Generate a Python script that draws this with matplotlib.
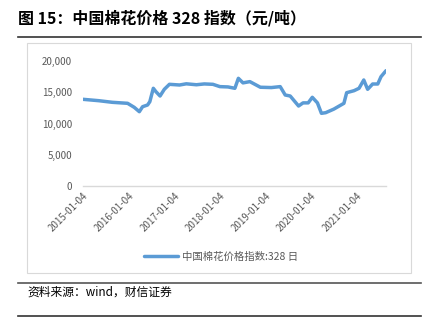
import pandas as pd
import matplotlib
matplotlib.use("Agg")
import matplotlib.pyplot as plt
import matplotlib.dates as mdates
from matplotlib.lines import Line2D
from matplotlib.patches import Rectangle

plt.rcParams['font.family'] = ['Noto Sans CJK SC', 'DejaVu Sans']

# China Cotton Index 328 (yuan/ton)
dates = ["2015-01-04", "2015-05-10", "2015-08-27", "2015-12-27", "2016-02-18",
         "2016-03-30", "2016-04-25", "2016-06-04", "2016-06-22", "2016-07-20",
         "2016-08-10", "2016-09-12", "2016-10-16", "2016-11-26", "2017-02-15",
         "2017-04-10", "2017-06-30", "2017-09-01", "2017-11-09", "2018-01-04",
         "2018-03-10", "2018-05-04", "2018-06-01", "2018-07-08", "2018-09-01",
         "2018-11-24", "2019-02-20", "2019-05-02", "2019-06-11", "2019-07-21",
         "2019-09-26", "2019-11-01", "2019-12-12", "2020-01-14", "2020-02-24",
         "2020-03-27", "2020-04-30", "2020-07-04", "2020-09-23", "2020-10-15",
         "2020-12-13", "2021-01-22", "2021-03-01", "2021-04-01", "2021-05-11",
         "2021-06-21", "2021-07-17", "2021-08-26"]
values = [13870, 13650, 13390, 13230, 12590,
          11890, 12690, 12960, 13490, 15630,
          15090, 14400, 15470, 16270, 16160,
          16350, 16200, 16330, 16270, 15900,
          15850, 15630, 17230, 16500, 16700,
          15800, 15750, 15900, 14560, 14400,
          12800, 13300, 13300, 14190, 13300,
          11630, 11730, 12300, 13230, 14930,
          15250, 15630, 16960, 15470, 16320,
          16320, 17490, 18450]
tick_dates = ["2015-01-04", "2016-01-04", "2017-01-04", "2018-01-04",
              "2019-01-04", "2020-01-04", "2021-01-04"]
y_ticks = [0, 5000, 10000, 15000, 20000]

title = "图 15：中国棉花价格 328 指数（元/吨）"
series_name = "中国棉花价格指数:328 日"
source = "资料来源：wind，财信证券"

df = pd.DataFrame({"date": pd.to_datetime(dates), "value": values})

W, H = 432, 319
fig = plt.figure(figsize=(W / 100, H / 100), dpi=100)

def fx(x):
    return x / W

def fy(y):
    return 1 - y / H

ax = fig.add_axes([fx(83), fy(186), fx(386) - fx(83), fy(61) - fy(186)])
line, = ax.plot(df["date"], df["value"], color="#5B9BD5", lw=2.5,
                solid_joinstyle="round", solid_capstyle="round")

ax.set_xlim(df["date"].iloc[0], df["date"].iloc[-1])
ax.set_ylim(0, 20000)
ax.set_yticks(y_ticks)
ax.set_yticklabels([f"{v:,}" for v in y_ticks])
ax.set_xticks(pd.to_datetime(tick_dates))
ax.xaxis.set_major_formatter(mdates.DateFormatter("%Y-%m-%d"))
for lab in ax.get_xticklabels():
    lab.set_rotation(45)
    lab.set_ha("right")
    lab.set_rotation_mode("anchor")

ax.tick_params(axis="both", length=0, labelsize=7, labelcolor="#595959")
ax.tick_params(axis="y", pad=8)
ax.tick_params(axis="x", pad=3)
for s in ["top", "right", "left"]:
    ax.spines[s].set_visible(False)
ax.spines["bottom"].set_color("#D9D9D9")
ax.spines["bottom"].set_linewidth(1.0)
ax.patch.set_alpha(0)

# chart frame
fig.add_artist(Rectangle((fx(27), fy(273)), fx(411) - fx(27), fy(43) - fy(273),
                         transform=fig.transFigure, fill=False,
                         edgecolor="#D9D9D9", lw=0.8))

fig.legend([line], [series_name], loc="center", bbox_to_anchor=(fx(221), fy(257)),
           frameon=False, fontsize=7.5, labelcolor="#595959", handlelength=3.2,
           handletextpad=0.4)

# title and source
fig.text(fx(18), fy(18), title, fontsize=11.5, fontweight="bold", va="center", ha="left")
fig.add_artist(Line2D([fx(18), fx(421)], [fy(37), fy(37)], transform=fig.transFigure,
                      color="#333333", lw=1.2))
fig.add_artist(Line2D([fx(18), fx(421)], [fy(283), fy(283)], transform=fig.transFigure,
                      color="#555555", lw=1.2))
fig.text(fx(27), fy(292), source, fontsize=8.5, style="italic", va="center", ha="left")
fig.add_artist(Line2D([fx(18), fx(421)], [fy(316), fy(316)], transform=fig.transFigure,
                      color="#333333", lw=1.2))

fig.savefig("out.png", dpi=100)
